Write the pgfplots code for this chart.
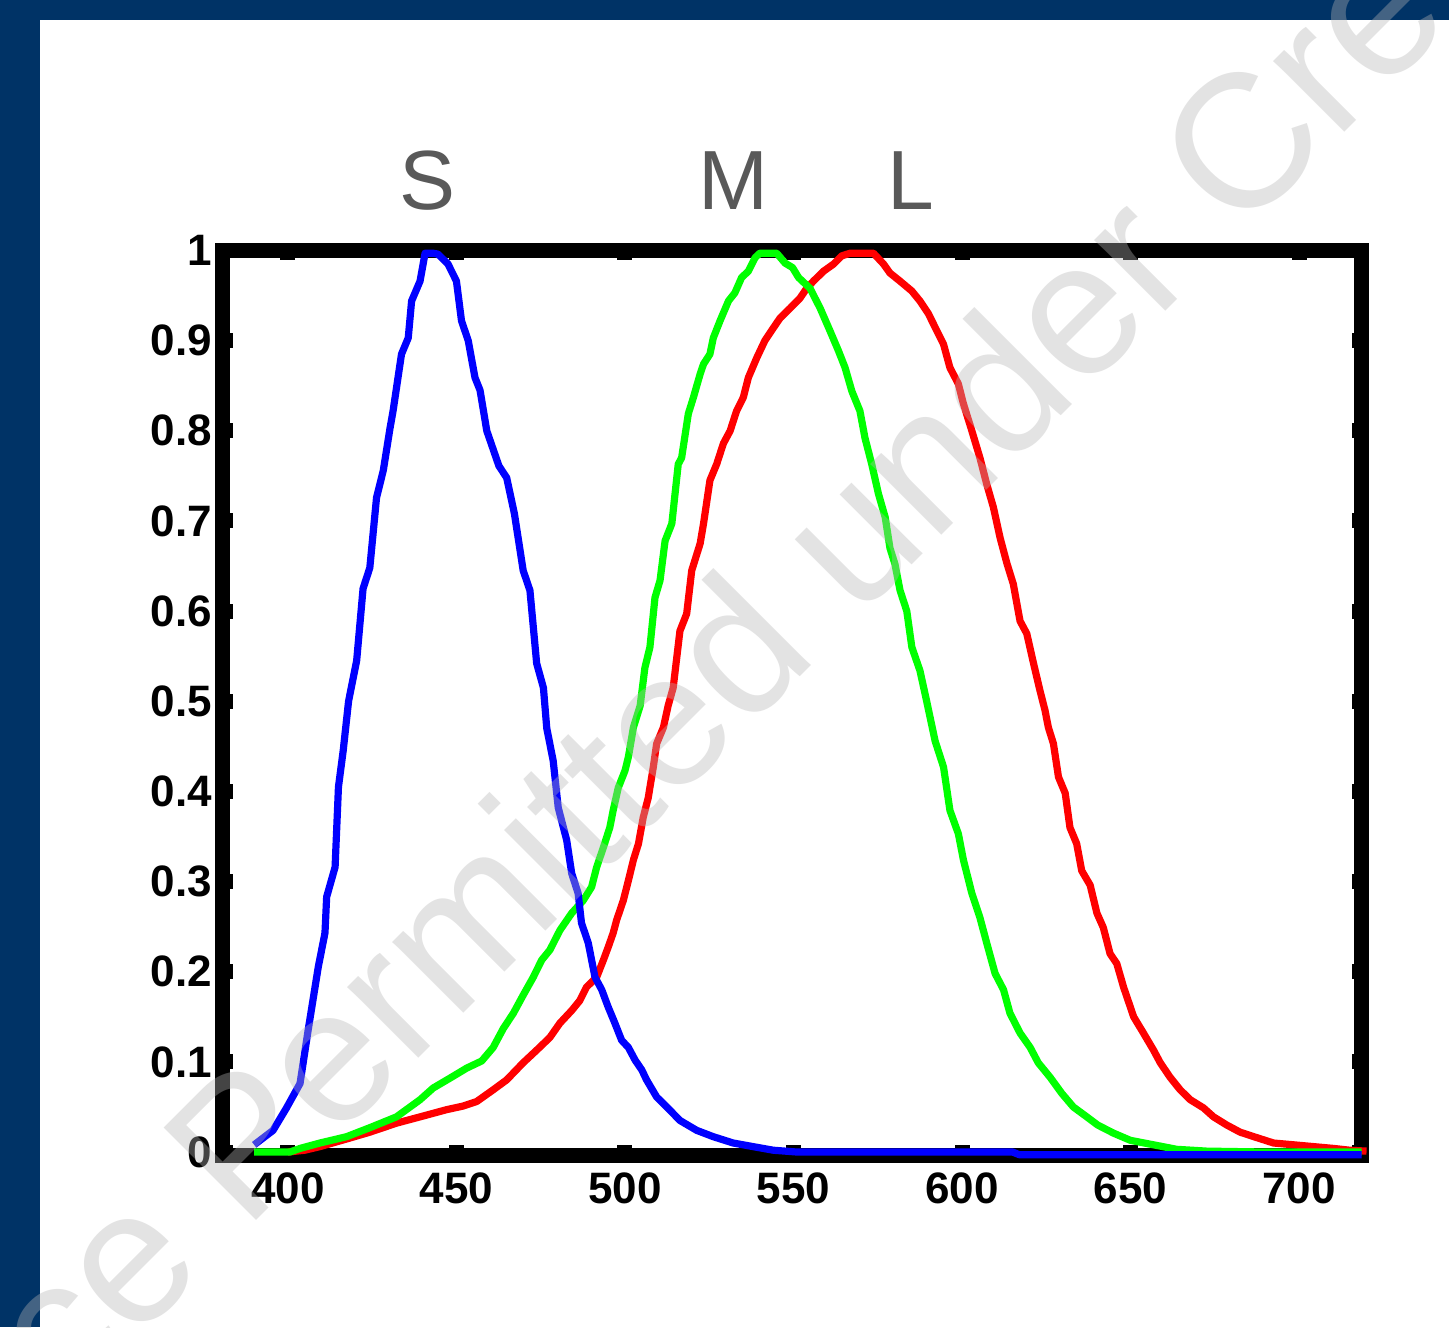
\documentclass[border=0pt]{standalone}
\usepackage{fontspec}
\setmainfont{Liberation Sans}
\usepackage{pgfplots}
\pgfplotsset{compat=1.18}
\definecolor{navy}{RGB}{0,51,102}
\definecolor{lblgray}{RGB}{89,89,89}
\definecolor{wm}{RGB}{181,181,181}
\begin{document}
\begin{tikzpicture}
\useasboundingbox (0pt,0pt) rectangle (724.5pt,663.5pt);
\fill[white] (0pt,0pt) rectangle (724.5pt,663.5pt);
\fill[navy] (0pt,0pt) rectangle (20pt,663.5pt);
\fill[navy] (0pt,653.5pt) rectangle (724.5pt,663.5pt);
\begin{axis}[
  at={(111.25pt,86pt)}, anchor=south west,
  scale only axis, width=569.5pt, height=452.25pt,
  xmin=380.6, xmax=718.5, ymin=-0.0033, ymax=1,
  clip=false,
  xtick={400,450,500,550,600,650,700},
  xticklabels={400,450,500,550,600,650,700},
  ytick={0,0.1,0.2,0.3,0.4,0.5,0.6,0.7,0.8,0.9,1},
  yticklabels={0,0.1,0.2,0.3,0.4,0.5,0.6,0.7,0.8,0.9,1},
  axis line style={line width=7.5pt, black},
  tick style={line width=7.5pt, black},
  major tick length=5pt, tick align=inside,
  ticklabel style={font=\fontsize{22}{22}\selectfont\bfseries, inner sep=0pt},
  xticklabel style={anchor=north, yshift=-8.5pt},
  yticklabel style={anchor=east, xshift=-5pt},
  every axis plot/.append style={line width=3.6pt, line join=round, mark=none},
]
% L cone (red)
\addplot[color={rgb,255:red,255;green,0;blue,0}] table {
400 0
405 0.002
409.5 0.006
417 0.014
424.3 0.022
432.2 0.032
439.2 0.039
447.1 0.047
452 0.051
456 0.056
460.9 0.069
464.9 0.08
469.8 0.099
473.8 0.113
477.7 0.127
480.7 0.143
484.2 0.157
486.6 0.168
488.6 0.183
491.6 0.194
493.6 0.213
495 0.227
496.5 0.243
497.5 0.257
499.5 0.279
501 0.301
502.5 0.324
504 0.342
505.4 0.371
506.9 0.393
508.4 0.427
509.4 0.453
511.4 0.471
512.8 0.495
514.3 0.515
516.3 0.578
518.3 0.597
519.8 0.645
522.3 0.675
523.3 0.697
525.2 0.745
527.2 0.763
529.2 0.786
531.2 0.80
533.1 0.822
535.1 0.837
536.6 0.859
539.1 0.881
541.5 0.90
544 0.914
546 0.925
549 0.936
551.9 0.947
553.9 0.958
555.9 0.966
558.9 0.977
561.9 0.985
564.3 0.994
566.8 0.997
573.7 0.997
576.7 0.985
578.6 0.975
581.6 0.966
585.1 0.955
587.5 0.944
590 0.93
592.5 0.911
594.5 0.896
596.4 0.87
598.9 0.852
600.4 0.83
602.9 0.80
605.3 0.77
607.3 0.741
609.3 0.715
611.3 0.681
613.3 0.653
615.2 0.63
617.2 0.589
619.2 0.575
621.2 0.542
623.1 0.512
624.6 0.49
625.6 0.471
627.1 0.453
628.6 0.416
630.6 0.398
632 0.36
634 0.342
635.5 0.312
638 0.296
640 0.265
641.9 0.249
643.9 0.22
645.9 0.209
647.9 0.183
650.9 0.15
653.8 0.132
656.8 0.113
658.8 0.099
661.7 0.083
664.7 0.069
667.7 0.058
671.6 0.049
674.6 0.039
678.5 0.03
682.5 0.022
687.4 0.016
692.4 0.01
698.4 0.008
704.3 0.006
710.2 0.004
715 0.002
720 0.001
};
% M cone (green)
\addplot[color={rgb,255:red,0;green,255;blue,0}] table {
390 0
400.6 0
403.6 0.004
409.5 0.01
417.4 0.017
424.3 0.027
432.2 0.039
439.2 0.058
443.1 0.071
448.1 0.082
453 0.093
457.5 0.101
460.9 0.116
463.9 0.137
466.9 0.154
469.8 0.174
472.8 0.194
475.3 0.213
477.7 0.224
480.7 0.246
484.2 0.265
487.6 0.279
490.1 0.294
491.6 0.316
493.6 0.338
495.5 0.36
496.5 0.379
498 0.404
500 0.423
501 0.438
502.5 0.471
504.5 0.495
505.9 0.537
507.4 0.56
508.9 0.615
510.4 0.634
511.9 0.678
513.9 0.697
515.8 0.763
516.8 0.77
518.8 0.819
520.3 0.837
522.3 0.863
523.3 0.874
525.2 0.885
526.2 0.903
528.2 0.922
530.7 0.944
532.6 0.953
534.6 0.97
536.6 0.977
538.6 0.992
540 0.997
545 0.997
547.5 0.986
549.7 0.981
551.5 0.97
554.9 0.958
557.9 0.936
560.8 0.911
563.3 0.889
565.3 0.87
567.3 0.844
569.7 0.822
571.2 0.792
573.2 0.763
575.2 0.73
577.2 0.704
578.6 0.67
580.1 0.652
581.6 0.623
583.6 0.60
585.1 0.56
587.5 0.534
589.5 0.50
592 0.456
594.5 0.427
596.4 0.379
598.9 0.353
600.4 0.324
602.9 0.287
605.3 0.26
607.3 0.232
609.8 0.198
612.3 0.18
614.2 0.154
617.2 0.132
620.2 0.116
622.6 0.099
626.1 0.083
629.6 0.065
633 0.05
637 0.039
640.2 0.03
644.9 0.021
649.9 0.013
656.8 0.008
663.7 0.003
672.6 0.001
690 0
718.5 0
};
% S cone (blue)
\addplot[color={rgb,255:red,0;green,0;blue,255}] table {
390 0.008
395.6 0.024
399.6 0.049
403.6 0.076
406 0.135
409 0.205
411 0.243
411.5 0.283
414 0.316
415 0.405
416.4 0.445
418 0.50
420.4 0.545
422.3 0.625
424.3 0.648
426.3 0.726
428.3 0.756
430.3 0.803
431.2 0.822
433.7 0.885
435.7 0.903
436.7 0.944
439.2 0.966
440.7 0.997
443 0.997
444.5 0.996
447.5 0.985
450 0.966
451.5 0.922
453.5 0.90
455.5 0.859
457 0.845
459 0.80
462.6 0.761
464.9 0.748
467.2 0.708
469.8 0.645
471.8 0.623
473.8 0.542
475.8 0.515
476.8 0.47
478.7 0.434
480.2 0.382
482.7 0.346
484.2 0.309
486.1 0.287
487.1 0.254
489.1 0.232
491.1 0.194
493.1 0.18
495 0.161
497 0.143
499 0.124
501 0.116
503 0.102
505 0.091
506.4 0.08
509.4 0.061
512.4 0.05
516.3 0.035
521.3 0.024
526.2 0.017
532.1 0.010
538 0.006
544 0.002
551 0
615 0
617 -0.003
718.5 -0.003
};
\node[anchor=base, text=lblgray, font=\fontsize{42}{42}\selectfont] at (axis cs:441.5,1.046) {S};
\node[anchor=base, text=lblgray, font=\fontsize{42}{42}\selectfont] at (axis cs:532.3,1.046) {M};
\node[anchor=base, text=lblgray, font=\fontsize{42}{42}\selectfont] at (axis cs:584.9,1.046) {L};
\end{axis}
\node[rotate=45, anchor=base west, inner sep=0pt, text=wm, text opacity=0.376, font=\fontsize{95}{95}\selectfont] at (33pt,-42pt) {ce Permitted under Cre};
\end{tikzpicture}
\end{document}
